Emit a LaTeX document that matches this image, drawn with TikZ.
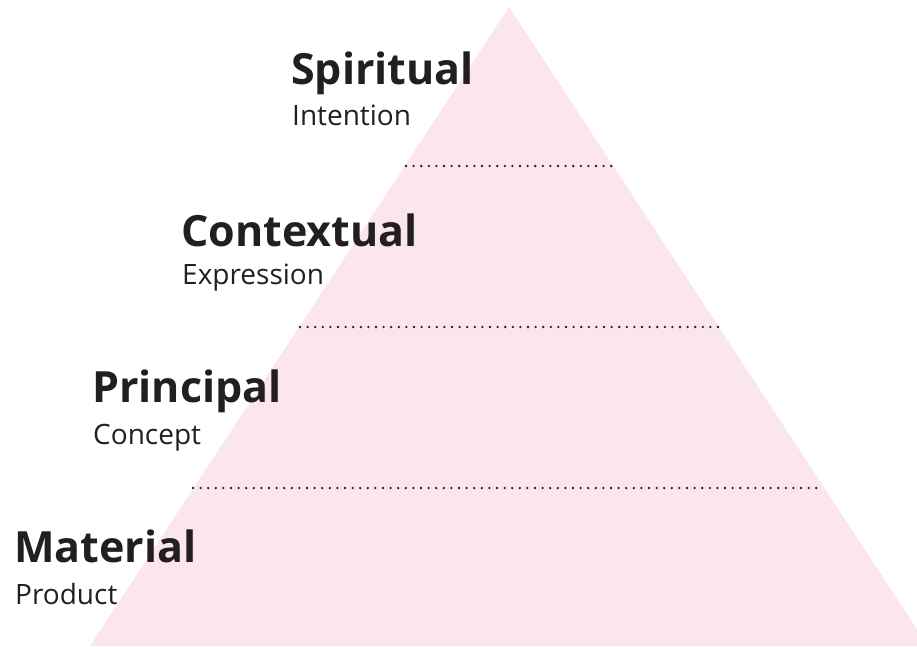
\documentclass[tikz,border=0pt]{standalone}
\usepackage{fontspec}
\setmainfont{Open Sans}
\usetikzlibrary{positioning}
\definecolor{pyrpink}{RGB}{251,230,237}
\definecolor{inkdark}{RGB}{35,31,32}
\tikzset{
    levelhead/.style={anchor=base west, inner sep=0pt, text=inkdark,
        font=\fontsize{43}{43}\selectfont\bfseries},
    levelsub/.style={anchor=base west, inner sep=0pt, text=inkdark,
        font=\fontsize{28}{28}\selectfont},
    dotrule/.style={draw=inkdark, line width=2.6pt, line cap=round,
        dash pattern=on 0pt off 7.6pt}
}

\begin{document}
\begin{tikzpicture}[x=1pt,y=-1pt]
    \useasboundingbox (0,0) rectangle (917,646);
    \clip (0,0) rectangle (917,646);
    %pyramid
    \fill[pyrpink] (509,7) -- (928,646) -- (90,646) -- cycle;
    %level borders
    \coordinate (b1l) at (406,166);
    \coordinate (b1r) at (612,166);
    \coordinate (b2l) at (300,327);
    \coordinate (b2r) at (719,327);
    \coordinate (b3l) at (193,488);
    \coordinate (b3r) at (822,488);
    \draw[dotrule] (b1l) -- (b1r);
    \draw[dotrule] (b2l) -- (b2r);
    \draw[dotrule] (b3l) -- (b3r);
    %labels
    \node[levelhead] (spiritual) at (291,84) {Spiritual};
    \node[levelsub] (intention) at (292,125) {Intention};
    \node[levelhead] (contextual) at (181,246) {Contextual};
    \node[levelsub] (expression) at (182,284) {Expression};
    \node[levelhead] (principal) at (92,402) {Principal};
    \node[levelsub] (concept) at (93,444) {Concept};
    \node[levelhead] (material) at (14,562) {Material};
    \node[levelsub] (product) at (15,604) {Product};
\end{tikzpicture}
\end{document}
